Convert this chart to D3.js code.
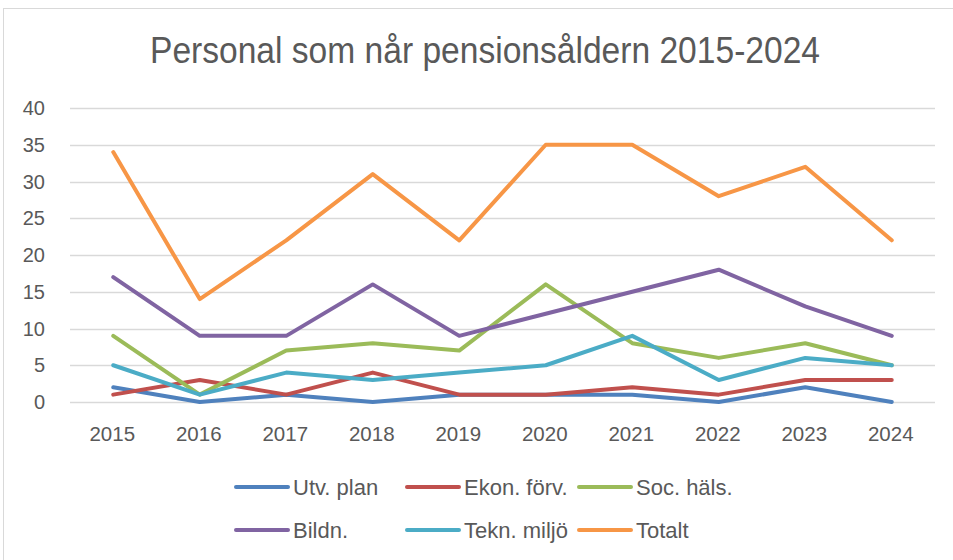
<!DOCTYPE html>
<html>
<head>
<meta charset="utf-8">
<script src="https://cdn.jsdelivr.net/npm/d3@7"></script>
<style>
  body { margin: 0; background: #fff; }
  #chart { width: 953px; height: 560px; }
  text { font-family: "Liberation Sans", Arial, sans-serif; fill: #595959; }
</style>
</head>
<body>
<div id="chart"></div>
<script>
const years = ["2015", "2016", "2017", "2018", "2019", "2020", "2021", "2022", "2023", "2024"];
const yTicks = [0, 5, 10, 15, 20, 25, 30, 35, 40];

const utvPlan = [2, 0, 1, 0, 1, 1, 1, 0, 2, 0];
const ekonForv = [1, 3, 1, 4, 1, 1, 2, 1, 3, 3];
const socHals = [9, 1, 7, 8, 7, 16, 8, 6, 8, 5];
const bildn = [17, 9, 9, 16, 9, 12, 15, 18, 13, 9];
const teknMiljo = [5, 1, 4, 3, 4, 5, 9, 3, 6, 5];
const totalt = [34, 14, 22, 31, 22, 35, 35, 28, 32, 22];

const seriesNames = ["Utv. plan", "Ekon. förv.", "Soc. häls.", "Bildn.", "Tekn. miljö", "Totalt"];
const seriesValues = [utvPlan, ekonForv, socHals, bildn, teknMiljo, totalt];
const seriesColors = ["#4F81BD", "#C0504D", "#9BBB59", "#8064A2", "#4BACC6", "#F79646"];

// layout
const width = 953, height = 560;
const plot = { left: 70, right: 935, top: 108, bottom: 402 };

const svg = d3.select("#chart").append("svg")
  .attr("width", width)
  .attr("height", height);

// chart frame
svg.append("rect")
  .attr("x", 3.5).attr("y", 8.5)
  .attr("width", width + 10).attr("height", height + 10)
  .attr("fill", "none")
  .attr("stroke", "#d9d9d9");

// title
svg.append("text")
  .attr("x", 485).attr("y", 63)
  .attr("text-anchor", "middle")
  .attr("textLength", 670)
  .attr("lengthAdjust", "spacingAndGlyphs")
  .style("font-size", "36px")
  .text("Personal som når pensionsåldern 2015-2024");

// scales
const x = d3.scalePoint()
  .domain(years)
  .range([plot.left, plot.right])
  .padding(0.5);

const y = d3.scaleLinear()
  .domain([0, 40])
  .range([plot.bottom, plot.top]);

// gridlines
svg.append("g")
  .selectAll("line")
  .data(yTicks)
  .join("line")
  .attr("x1", plot.left).attr("x2", plot.right)
  .attr("y1", d => Math.round(y(d)) + 0.5)
  .attr("y2", d => Math.round(y(d)) + 0.5)
  .attr("stroke", "#d9d9d9")
  .attr("stroke-width", 1.5);

// y labels
svg.append("g")
  .selectAll("text")
  .data(yTicks)
  .join("text")
  .attr("x", 45)
  .attr("y", d => y(d) + 7)
  .attr("text-anchor", "end")
  .style("font-size", "20px")
  .text(d => d);

// x labels
svg.append("g")
  .selectAll("text")
  .data(years)
  .join("text")
  .attr("x", d => x(d) - 1)
  .attr("y", 441)
  .attr("text-anchor", "middle")
  .style("font-size", "20.5px")
  .text(d => d);

// lines
const lineGen = d3.line()
  .x((d, i) => x(years[i]))
  .y(d => y(d));

seriesValues.forEach((vals, i) => {
  svg.append("path")
    .datum(vals)
    .attr("d", lineGen)
    .attr("fill", "none")
    .attr("stroke", seriesColors[i])
    .attr("stroke-width", 4)
    .attr("stroke-linejoin", "round")
    .attr("stroke-linecap", "round");
});

// legend
const legendCols = [234, 405, 577];
const legendRows = [487, 530];
const legend = svg.append("g")
  .selectAll("g")
  .data(seriesNames)
  .join("g")
  .attr("transform", (d, i) => `translate(${legendCols[i % 3]}, ${legendRows[Math.floor(i / 3)]})`);

legend.append("line")
  .attr("x1", 2).attr("x2", 54)
  .attr("y1", 0).attr("y2", 0)
  .attr("stroke", (d, i) => seriesColors[i])
  .attr("stroke-width", 4)
  .attr("stroke-linecap", "round");

legend.append("text")
  .attr("x", 59)
  .attr("y", 8)
  .style("font-size", "22px")
  .text(d => d);
</script>
</body>
</html>
